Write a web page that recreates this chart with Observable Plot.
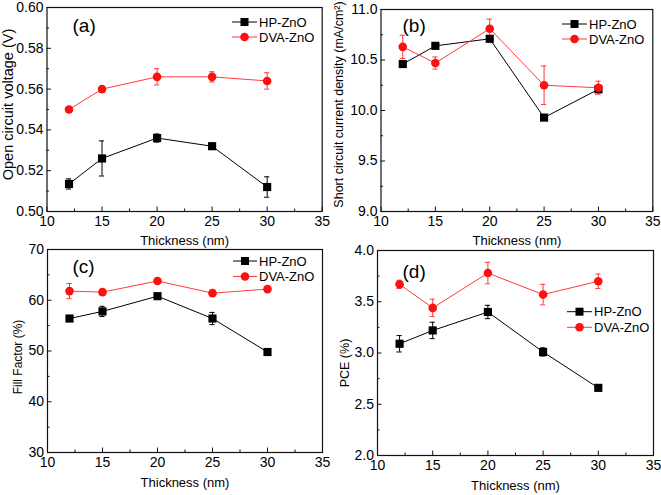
<!DOCTYPE html>
<html><head><meta charset="utf-8">
<script src="https://cdn.jsdelivr.net/npm/d3@7"></script>
<script src="https://cdn.jsdelivr.net/npm/@observablehq/plot@0.6"></script>
<style>
body{margin:0;background:#fff;}
#root{position:relative;width:661px;height:495px;overflow:hidden;font-family:"Liberation Sans",Arial,sans-serif;}
.panel{position:absolute;}
</style></head><body><div id="root"></div>
<script>
// ---- data ----
const thickness = [12, 15, 20, 25, 30];
const seriesNames = ["HP-ZnO", "DVA-ZnO"];
const xTicks = [10, 15, 20, 25, 30, 35];
const xMinor = [12.5, 17.5, 22.5, 27.5, 32.5];

const vocHP     = [0.5135, 0.526, 0.536, 0.532, 0.512];
const vocHPErr  = [0.0025, 0.0086, 0.002, 0.0015, 0.005];
const vocDVA    = [0.550, 0.560, 0.566, 0.566, 0.564];
const vocDVAErr = [0.0008, 0.0008, 0.004, 0.0025, 0.004];
const vocTicks  = [0.50, 0.52, 0.54, 0.56, 0.58, 0.60];
const vocMinor  = [0.51, 0.53, 0.55, 0.57, 0.59];

const jscHP     = [10.46, 10.64, 10.71, 9.93, 10.21];
const jscHPErr  = [0.02, 0.02, 0.02, 0.02, 0.02];
const jscDVA    = [10.63, 10.47, 10.81, 10.25, 10.225];
const jscDVAErr = [0.115, 0.06, 0.095, 0.19, 0.065];
const jscTicks  = [9.0, 9.5, 10.0, 10.5, 11.0];
const jscMinor  = [9.25, 9.75, 10.25, 10.75];

const ffHP      = [56.4, 57.8, 60.8, 56.4, 49.8];
const ffHPErr   = [0.4, 1.0, 0.3, 1.2, 0.3];
const ffDVA     = [61.8, 61.6, 63.8, 61.4, 62.2];
const ffDVAErr  = [1.5, 0.5, 0.3, 0.3, 0.3];
const ffTicks   = [30, 40, 50, 60, 70];
const ffMinor   = [35, 45, 55, 65];

const pceHP     = [3.09, 3.22, 3.40, 3.01, 2.66];
const pceHPErr  = [0.08, 0.08, 0.065, 0.04, 0.01];
const pceDVA    = [3.67, 3.44, 3.78, 3.57, 3.70];
const pceDVAErr = [0.04, 0.085, 0.105, 0.1, 0.07];
const pceTicks  = [2.0, 2.5, 3.0, 3.5, 4.0];
const pceMinor  = [2.25, 2.75, 3.25, 3.75];

// ---- styles ----
const HP_COLOR = "#000000";
const DVA_LINE = "#ff3a3a";
const DVA_FILL = "#ff1010";
const FONT = "'Liberation Sans', Arial, sans-serif";

const panels = [
  {tag: "(a)", left: 0, top: 0, w: 330, h: 250, mL: 46.5, mR: 8.3, mT: 7, mB: 39,
   hp: vocHP, hpErr: vocHPErr, dva: vocDVA, dvaErr: vocDVAErr, yTicks: vocTicks, yMinor: vocMinor,
   fmt: d3.format(".2f"), yLabel: "Open circuit voltage (V)", yLabelSize: 14.5, yLabelDx: -38.5, yLabelDy: -5,
   tagDx: 25.5, tagDy: 18, xLabelDy: 29,
   legend: {x1: 232, x2: 257, tx: 259, y: [22, 37]}},
  {tag: "(b)", left: 330, top: 0, w: 331, h: 250, mL: 50.5, mR: 8.7, mT: 9, mB: 39,
   hp: jscHP, hpErr: jscHPErr, dva: jscDVA, dvaErr: jscDVAErr, yTicks: jscTicks, yMinor: jscMinor,
   fmt: d3.format(".1f"), yLabel: "Short circuit current density (mA/cm²)", yLabelSize: 12.5, yLabelDx: -42.5, yLabelDy: -6,
   tagDx: 21.5, tagDy: 16, xLabelDy: 29,
   legend: {x1: 562, x2: 587, tx: 589, y: [24, 39]}},
  {tag: "(c)", left: 0, top: 240, w: 330, h: 255, mL: 47, mR: 8, mT: 9, mB: 43,
   hp: ffHP, hpErr: ffHPErr, dva: ffDVA, dvaErr: ffDVAErr, yTicks: ffTicks, yMinor: ffMinor,
   fmt: d3.format("d"), yLabel: "Fill Factor (%)", yLabelSize: 12, yLabelDx: -29, yLabelDy: 6,
   tagDx: 25, tagDy: 17.5, xLabelDy: 30,
   legend: {x1: 233, x2: 257, tx: 259, y: [261, 276.5]}},
  {tag: "(d)", left: 330, top: 240, w: 331, h: 255, mL: 47, mR: 8, mT: 10, mB: 40,
   hp: pceHP, hpErr: pceHPErr, dva: pceDVA, dvaErr: pceDVAErr, yTicks: pceTicks, yMinor: pceMinor,
   fmt: d3.format(".1f"), yLabel: "PCE (%)", yLabelSize: 12.5, yLabelDx: -33, yLabelDy: 10,
   tagDx: 25, tagDy: 21.5, xLabelDy: 30,
   legend: {x1: 567, x2: 592, tx: 594, y: [311.7, 327.3]}}
];

const root = document.getElementById("root");

function seriesRows(name, vals, errs) {
  return thickness.map((t, i) => ({s: name, x: t, y: vals[i], e: errs[i]}));
}

function errorMarks(rows, color) {
  const r = rows.filter(d => d.e > 0);
  return [
    Plot.ruleX(r, {x: "x", y1: d => d.y - d.e, y2: d => d.y + d.e, stroke: color, strokeWidth: 1}),
    Plot.ruleY(r, {x1: "x", x2: "x", y: d => d.y + d.e, insetLeft: -2.6, insetRight: -2.6, stroke: color, strokeWidth: 1}),
    Plot.ruleY(r, {x1: "x", x2: "x", y: d => d.y - d.e, insetLeft: -2.6, insetRight: -2.6, stroke: color, strokeWidth: 1})
  ];
}

for (const cfg of panels) {
  const hpRows = seriesRows(seriesNames[0], cfg.hp, cfg.hpErr);
  const dvaRows = seriesRows(seriesNames[1], cfg.dva, cfg.dvaErr);
  const yDomain = [cfg.yTicks[0], cfg.yTicks[cfg.yTicks.length - 1]];
  const chart = Plot.plot({
    width: cfg.w, height: cfg.h,
    marginLeft: cfg.mL, marginRight: cfg.mR, marginTop: cfg.mT, marginBottom: cfg.mB,
    x: {domain: [xTicks[0], xTicks[xTicks.length - 1]], label: null},
    y: {domain: yDomain, label: null},
    style: {background: "transparent", fontFamily: FONT, overflow: "visible", color: "#000"},
    marks: [
      Plot.axisX(xTicks, {tickSize: -4.5, tickPadding: 9.5, fontSize: 14, label: null, stroke: "#111"}),
      Plot.axisX(xMinor, {tickSize: -2.5, tickFormat: () => "", label: null, stroke: "#111"}),
      Plot.axisY(cfg.yTicks, {tickSize: -4.5, tickPadding: 8, tickFormat: cfg.fmt, fontSize: 14, label: null, stroke: "#111"}),
      Plot.axisY(cfg.yMinor, {tickSize: -2.5, tickFormat: () => "", label: null, stroke: "#111"}),
      Plot.frame({stroke: "#111", strokeWidth: 1.2}),
      Plot.line(hpRows, {x: "x", y: "y", stroke: HP_COLOR, strokeWidth: 1}),
      Plot.line(dvaRows, {x: "x", y: "y", stroke: DVA_LINE, strokeWidth: 1}),
      ...errorMarks(hpRows, HP_COLOR),
      ...errorMarks(dvaRows, DVA_LINE),
      Plot.dot(hpRows, {x: "x", y: "y", symbol: "square", r: 4.6, fill: HP_COLOR, stroke: null}),
      Plot.dot(dvaRows, {x: "x", y: "y", symbol: "circle", r: 4.3, fill: DVA_FILL, stroke: null}),
      Plot.text(["Thickness (nm)"], {text: d => d, frameAnchor: "bottom", dy: cfg.xLabelDy, lineAnchor: "middle", textAnchor: "middle", fontSize: 13}),
      Plot.text([cfg.yLabel], {text: d => d, frameAnchor: "left", rotate: -90, dx: cfg.yLabelDx, dy: cfg.yLabelDy, lineAnchor: "middle", textAnchor: "middle", fontSize: cfg.yLabelSize}),
      Plot.text([cfg.tag], {text: d => d, frameAnchor: "top-left", dx: cfg.tagDx, dy: cfg.tagDy, lineAnchor: "middle", textAnchor: "start", fontSize: 19})
    ]
  });
  const div = document.createElement("div");
  div.className = "panel";
  div.style.left = cfg.left + "px";
  div.style.top = cfg.top + "px";
  div.appendChild(chart);
  root.appendChild(div);
}

// legends overlay
const overlay = d3.select(root).append("svg")
  .attr("width", 661).attr("height", 495)
  .style("position", "absolute").style("left", 0).style("top", 0)
  .style("pointer-events", "none").style("font-family", FONT);

for (const cfg of panels) {
  const L = cfg.legend;
  seriesNames.forEach((name, k) => {
    const y = L.y[k];
    const col = k === 0 ? HP_COLOR : DVA_LINE;
    overlay.append("line").attr("x1", L.x1).attr("x2", L.x2).attr("y1", y).attr("y2", y)
      .attr("stroke", col).attr("stroke-width", 1);
    const cx = (L.x1 + L.x2) / 2;
    if (k === 0) {
      overlay.append("rect").attr("x", cx - 4).attr("y", y - 4).attr("width", 8).attr("height", 8).attr("fill", HP_COLOR);
    } else {
      overlay.append("circle").attr("cx", cx).attr("cy", y).attr("r", 4.3).attr("fill", DVA_FILL);
    }
    overlay.append("text").attr("x", L.tx).attr("y", y).attr("dy", "0.36em")
      .attr("font-size", 13).attr("fill", "#000").text(name);
  });
}
</script>
</body></html>
